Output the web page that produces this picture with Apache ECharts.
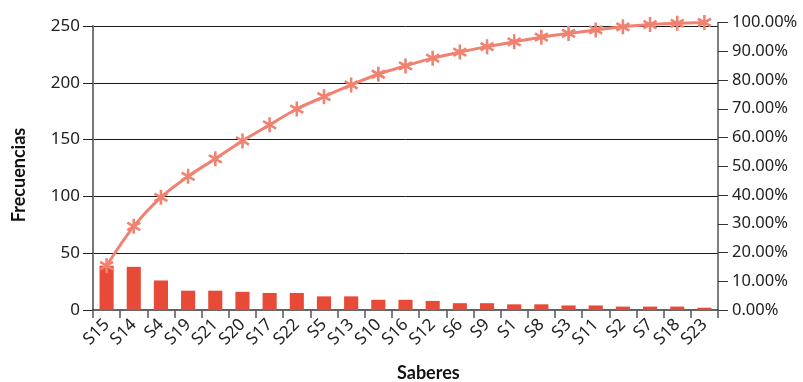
<!DOCTYPE html>
<html>
<head>
<meta charset="utf-8">
<script src="https://cdn.jsdelivr.net/npm/echarts@6/dist/echarts.min.js"></script>
<style>
html,body{margin:0;padding:0;background:#fff;}
#c{width:803px;height:382px;}
</style>
</head>
<body>
<div id="c"></div>
<script>
var categories = ['S15','S14','S4','S19','S21','S20','S17','S22','S5','S13','S10','S16','S12','S6','S9','S1','S8','S3','S11','S2','S7','S18','S23'];
var frecuencias = [39,38,26,17,17,16,15,15,12,12,9,9,8,6,6,5,5,4,4,3,3,3,2];
var acumulado = [0.154,0.291,0.392,0.465,0.526,0.588,0.644,0.699,0.742,0.783,0.820,0.849,0.876,0.897,0.916,0.933,0.949,0.962,0.974,0.985,0.993,0.997,1.000];
var leftTicks = [0,50,100,150,200,250];
var rightTicks = [0,0.1,0.2,0.3,0.4,0.5,0.6,0.7,0.8,0.9,1.0];

var FONT = '"Noto Sans"';
var TFONT = 'Lato';
var chart = echarts.init(document.getElementById('c'), null, {renderer:'canvas'});
var star = 'path://M0,-10L0,10M-8.66,-5L8.66,5M-8.66,5L8.66,-5';

chart.setOption({
  animation:false,
  backgroundColor:'#fff',
  textStyle:{fontFamily:FONT},
  grid:[
    {left:93, right:85, top:26, bottom:72, containLabel:false},
    {left:93, right:85, top:22.5, bottom:72, containLabel:false}
  ],
  xAxis:[
    {type:'category', gridIndex:0, data:categories, boundaryGap:true,
     axisLine:{show:true, lineStyle:{color:'#333', width:1.5}},
     axisTick:{show:true, length:8, lineStyle:{color:'#555', width:1.5}},
     axisLabel:{rotate:45, margin:12, fontSize:17, color:'#222', fontFamily:FONT, interval:0},
     splitLine:{show:false}},
    {type:'category', gridIndex:1, data:categories, boundaryGap:true, position:'top',
     axisLine:{show:true, lineStyle:{color:'#666', width:1.2}},
     axisTick:{show:false}, axisLabel:{show:false}, splitLine:{show:false}}
  ],
  yAxis:[
    {type:'value', gridIndex:0, min:leftTicks[0], max:leftTicks[leftTicks.length-1], interval:50,
     axisLine:{show:true, lineStyle:{color:'#777', width:2}},
     axisTick:{show:true, inside:false, length:10, lineStyle:{color:'#222', width:1}},
     axisLabel:{margin:13, fontSize:17, color:'#222', fontFamily:FONT},
     splitLine:{show:true, lineStyle:{color:'#1a1a1a', width:1}}},
    {type:'value', gridIndex:1, position:'right', min:rightTicks[0], max:rightTicks[rightTicks.length-1], interval:0.1,
     axisLine:{show:true, lineStyle:{color:'#555', width:1.5}},
     axisTick:{show:true, length:10, lineStyle:{color:'#333', width:1}},
     axisLabel:{margin:14, fontSize:16.5, color:'#222', fontFamily:FONT,
       formatter:function(v){return (v*100).toFixed(2)+'%';}},
     splitLine:{show:false}}
  ],
  series:[
    {type:'bar', xAxisIndex:0, yAxisIndex:0, data:frecuencias, barWidth:'52%',
     itemStyle:{color:'#E84A38'}},
    {type:'line', xAxisIndex:1, yAxisIndex:1, data:acumulado, smooth:0.35,
     lineStyle:{color:'#F08272', width:3},
     symbol:star, symbolSize:15, symbolKeepAspect:true,
     itemStyle:{color:'rgba(0,0,0,0)', borderColor:'#F08272', borderWidth:2.6, opacity:1},
     z:5}
  ],
  graphic:[
    {type:'text', left:397, top:364, style:{text:'Saberes', font:'bold 18px '+TFONT, fill:'#111'}},
    {type:'text', x:19, y:175, rotation:Math.PI/2, style:{text:'Frecuencias', font:'bold 18px '+TFONT, fill:'#111', textAlign:'center', textVerticalAlign:'middle'}}
  ]
});
</script>
</body>
</html>
